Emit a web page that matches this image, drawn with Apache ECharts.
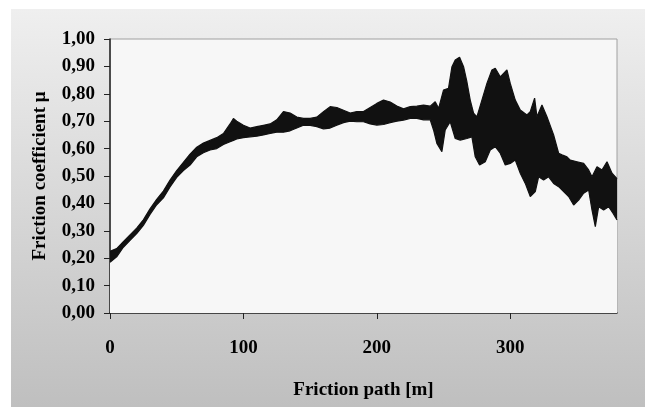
<!DOCTYPE html>
<html>
<head>
<meta charset="utf-8">
<script src="https://cdn.jsdelivr.net/npm/echarts@6/dist/echarts.min.js"></script>
<style>
html,body{margin:0;padding:0;background:#ffffff;}
#chart{width:649px;height:407px;}
</style>
</head>
<body>
<div id="chart"></div>
<script>
// Friction path [m] positions of the upper envelope readings
var upperX = [0,5,10,15,20,25,30,35,40,45,50,55,60,65,70,75,80,85,90,92.5,95,100,105,110,115,120,125,130,135,140,145,150,155,160,165,170,175,180,185,190,195,200,205,210,215,220,225,230,235,240,243.75,246.3,250,253.7,256.3,258.75,262,265,267.5,270,272.5,275,278.75,282.5,286.25,288.75,292.5,297.5,300,303.75,307.5,312.5,315,318.25,320,323.75,327.5,332.5,336.25,338.75,342.5,345,350,355,358.75,361.25,365,368.75,372.5,376.25,380];
// upper envelope of the friction coefficient trace
var muUpper = [0.225,0.235,0.26,0.285,0.31,0.34,0.38,0.415,0.445,0.485,0.52,0.55,0.58,0.605,0.62,0.63,0.64,0.655,0.69,0.71,0.70,0.685,0.675,0.68,0.685,0.69,0.705,0.735,0.73,0.715,0.71,0.71,0.715,0.735,0.753,0.75,0.74,0.73,0.735,0.735,0.75,0.765,0.777,0.77,0.755,0.745,0.753,0.755,0.759,0.755,0.771,0.747,0.814,0.82,0.899,0.923,0.933,0.899,0.844,0.777,0.729,0.716,0.777,0.838,0.887,0.893,0.862,0.887,0.838,0.777,0.741,0.723,0.735,0.784,0.716,0.759,0.716,0.65,0.583,0.577,0.57,0.558,0.552,0.546,0.522,0.497,0.534,0.522,0.552,0.51,0.49];
// Friction path [m] positions of the lower envelope readings
var lowerX = [0,5,10,15,20,25,30,35,40,45,50,55,60,65,70,75,80,85,90,92.5,95,100,105,110,115,120,125,130,135,140,145,150,155,160,165,170,175,180,185,190,195,200,205,210,215,220,225,230,235,240,242.5,245,248.75,251.25,255,258.75,262.5,267.5,271.25,273.75,277,281.25,285,288.75,292.5,296.25,300,303.75,307.5,311.25,315,318.75,321.25,325,328.75,332.5,336.25,340,343.75,347.5,351.25,355,358.75,361.25,363.75,366.25,370,373.75,377,380];
// lower envelope of the friction coefficient trace
var muLower = [0.185,0.205,0.24,0.265,0.29,0.32,0.36,0.395,0.42,0.46,0.495,0.52,0.54,0.57,0.585,0.595,0.60,0.615,0.625,0.63,0.635,0.64,0.643,0.645,0.65,0.655,0.66,0.66,0.665,0.675,0.685,0.685,0.68,0.672,0.675,0.685,0.695,0.70,0.698,0.698,0.69,0.686,0.688,0.695,0.70,0.704,0.71,0.71,0.705,0.705,0.668,0.619,0.589,0.668,0.698,0.637,0.631,0.637,0.643,0.57,0.54,0.552,0.595,0.607,0.583,0.54,0.546,0.558,0.51,0.473,0.425,0.443,0.497,0.485,0.497,0.473,0.461,0.443,0.425,0.394,0.412,0.437,0.449,0.376,0.315,0.388,0.376,0.388,0.364,0.34];
var yTicks = [0,0.1,0.2,0.3,0.4,0.5,0.6,0.7,0.8,0.9,1.0];
var xTicks = [0,100,200,300];

var upperData = upperX.map(function(x,i){return [x, muUpper[i]];});
var lowerData = lowerX.map(function(x,i){return [x, muLower[i]];});

var font = '"Liberation Serif","Times New Roman",serif';
var chart = echarts.init(document.getElementById('chart'), null, {renderer:'canvas'});
chart.setOption({
  animation:false,
  backgroundColor:'#ffffff',
  graphic:[{
    type:'rect', z:-100, silent:true,
    shape:{x:11,y:9,width:634,height:398},
    style:{fill:new echarts.graphic.LinearGradient(0,0,0,1,[{offset:0,color:'#efefef'},{offset:1,color:'#bfbfbf'}])}
  }],
  grid:{left:110,right:32,top:39,bottom:94,show:true,backgroundColor:'#f7f7f7',borderColor:'#a0a0a0',borderWidth:1},
  xAxis:{
    type:'value',min:0,max:380,interval:100,
    name:'Friction path [m]',nameLocation:'middle',nameGap:68,
    nameTextStyle:{fontFamily:font,fontWeight:'bold',fontSize:19,color:'#000'},
    axisLine:{show:true,lineStyle:{color:'#222',width:1.5}},
    axisTick:{show:true,inside:false,length:6,lineStyle:{color:'#222'}},
    axisLabel:{margin:26,showMaxLabel:false,fontFamily:font,fontWeight:'bold',fontSize:19,color:'#000',
      formatter:function(v){return xTicks.indexOf(v)>=0?String(v):'';}},
    splitLine:{show:false}
  },
  yAxis:{
    type:'value',min:0,max:1,interval:0.1,
    name:'Friction coefficient μ',nameLocation:'middle',nameGap:60,nameRotate:90,
    nameTextStyle:{fontFamily:font,fontWeight:'bold',fontSize:19,color:'#000'},
    axisLine:{show:true,lineStyle:{color:'#222',width:1.5}},
    axisTick:{show:true,inside:false,length:6,lineStyle:{color:'#222'}},
    axisLabel:{margin:15,fontFamily:font,fontWeight:'bold',fontSize:19,color:'#000',
      formatter:function(v){var t=yTicks.filter(function(a){return Math.abs(a-v)<1e-6;});return t.length?t[0].toFixed(2).replace('.',','):'';}},
    splitLine:{show:false}
  },
  series:[
    {type:'line',name:'upper',data:upperData,symbol:'none',z:2,
      lineStyle:{color:'#111',width:1.2},areaStyle:{color:'#111',opacity:1,origin:'start'}},
    {type:'line',name:'lower',data:lowerData,symbol:'none',z:3,
      lineStyle:{color:'#111',width:1.2},areaStyle:{color:'#f7f7f7',opacity:1,origin:'start'}}
  ]
});
</script>
</body>
</html>
